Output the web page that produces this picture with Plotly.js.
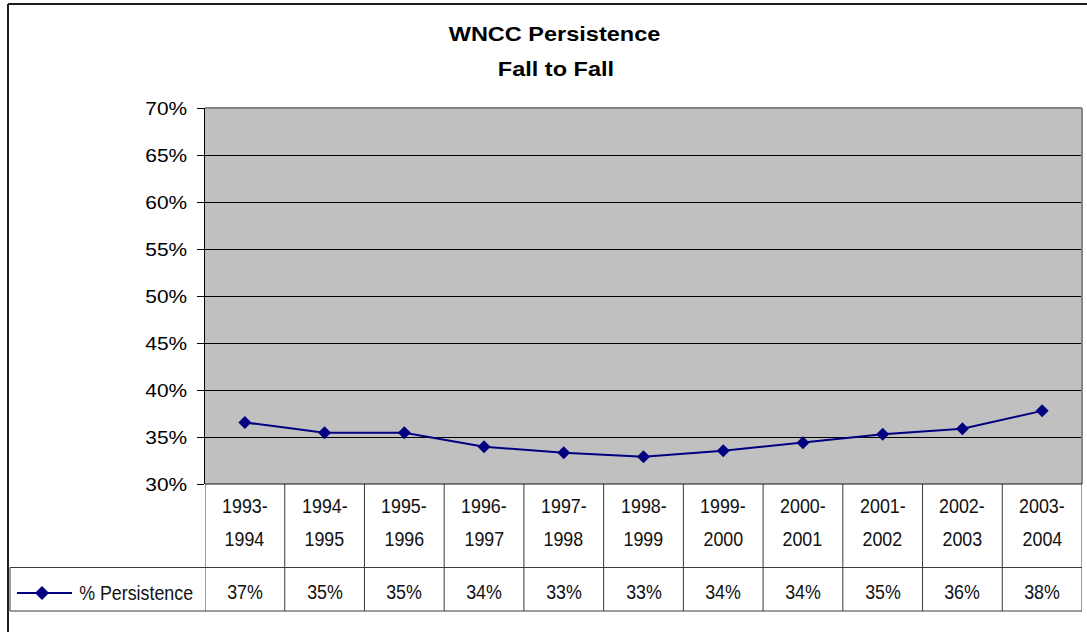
<!DOCTYPE html>
<html><head><meta charset="utf-8">
<script src="https://cdn.plot.ly/plotly-3.0.1.min.js"></script>
<style>html,body{margin:0;padding:0;background:#fff}#chart{width:1087px;height:632px}</style>
</head><body><div id="chart"></div>
<script>
// ---- data ----
const years = ["1993-1994","1994-1995","1995-1996","1996-1997","1997-1998","1998-1999","1999-2000","2000-2001","2001-2002","2002-2003","2003-2004"];
const persistence = [36.55, 35.45, 35.45, 33.97, 33.33, 32.9, 33.55, 34.4, 35.28, 35.88, 37.78];
const seriesName = "% Persistence";
const titleLines = ["WNCC Persistence", "Fall to Fall"];
const yTickVals = [30, 35, 40, 45, 50, 55, 60, 65, 70];

// ---- layout helpers ----
const W = 1087, H = 632;
const px = v => v / W;
const py = v => 1 - v / H;
const NAVY = "#000080";
const TXT = "#111111";
const TABLE_FONT = {family: "Liberation Sans, Arial, sans-serif", size: 21, color: TXT};
const LINE_COL = "#3a3a3a";
const TABLE_SCALE = 0.85, TITLE_SCALE = 1.12, TICK_SCALE = 1.1;

const plotL = 205, plotR = 1082, plotT = 108, plotB = 484;
const rowMid = 567.5, rowBot = 611;

const trace = {
  type: "scatter", mode: "lines+markers",
  x: years, y: persistence, name: seriesName,
  line: {color: NAVY, width: 2},
  marker: {symbol: "diamond", size: 10, color: NAVY},
  showlegend: false, hoverinfo: "skip"
};

const shapes = [];
const annotations = [];
const annScale = [];

// outer chart border (top + left visible)
shapes.push({type:"line", xref:"paper", yref:"paper", x0:px(8), x1:1, y0:py(4), y1:py(4), line:{color:"#1e1e1e", width:2}});
shapes.push({type:"line", xref:"paper", yref:"paper", x0:px(8), x1:px(8), y0:py(4), y1:0, line:{color:"#1e1e1e", width:2}});

// plot-area border top & right (gray)
shapes.push({type:"line", xref:"paper", yref:"paper", x0:px(plotL), x1:px(plotR), y0:py(plotT), y1:py(plotT), line:{color:"#858585", width:2}});
shapes.push({type:"line", xref:"paper", yref:"paper", x0:px(plotR), x1:px(plotR), y0:py(plotT), y1:py(plotB), line:{color:"#858585", width:2}});

// table grid
for (let k = 0; k <= years.length; k++) {
  shapes.push({type:"line", xref:"x", yref:"paper", x0:k-0.5, x1:k-0.5, y0:py(plotB), y1:py(rowBot), line:{color:LINE_COL, width:1}});
}
shapes.push({type:"line", xref:"paper", yref:"paper", x0:px(plotL), x1:px(plotR), y0:py(plotB), y1:py(plotB), line:{color:"#111", width:1}});
shapes.push({type:"line", xref:"paper", yref:"paper", x0:px(10), x1:px(plotR), y0:py(rowMid), y1:py(rowMid), line:{color:LINE_COL, width:1}});
shapes.push({type:"line", xref:"paper", yref:"paper", x0:px(10), x1:px(plotR), y0:py(rowBot), y1:py(rowBot), line:{color:LINE_COL, width:1}});
shapes.push({type:"line", xref:"paper", yref:"paper", x0:px(10), x1:px(10), y0:py(rowMid), y1:py(rowBot), line:{color:LINE_COL, width:1}});

// legend key in table
const legY = 593;
shapes.push({type:"line", xref:"paper", yref:"paper", x0:px(17), x1:px(72), y0:py(legY), y1:py(legY), line:{color:NAVY, width:2}});
const dc = 42, dr = 6.5;
shapes.push({type:"path", xref:"paper", yref:"paper",
  path:`M ${px(dc-dr)} ${py(legY)} L ${px(dc)} ${py(legY-dr)} L ${px(dc+dr)} ${py(legY)} L ${px(dc)} ${py(legY+dr)} Z`,
  fillcolor:NAVY, line:{color:NAVY, width:1}});
annotations.push({xref:"paper", yref:"paper", x:px(135.5), y:py(legY-1), xanchor:"center", yanchor:"middle", text:seriesName, showarrow:false, font:TABLE_FONT});
annScale.push(TABLE_SCALE);

// table texts
years.forEach((lab, i) => {
  const parts = lab.split("-");
  annotations.push({xref:"x", yref:"paper", x:i, y:py(505), text:parts[0] + "-", showarrow:false, xanchor:"center", yanchor:"middle", font:TABLE_FONT});
  annotations.push({xref:"x", yref:"paper", x:i, y:py(538.5), text:parts[1], showarrow:false, xanchor:"center", yanchor:"middle", font:TABLE_FONT});
  annotations.push({xref:"x", yref:"paper", x:i, y:py(591), text:Math.round(persistence[i]) + "%", showarrow:false, xanchor:"center", yanchor:"middle", font:TABLE_FONT});
  annScale.push(TABLE_SCALE, TABLE_SCALE, TABLE_SCALE);
});

// title
const titleFont = {family:"Liberation Sans, Arial, sans-serif", size:21, color:"#000", weight:"bold"};
annotations.push({xref:"paper", yref:"paper", x:px(554), y:py(34), text:"<b>"+titleLines[0]+"</b>", showarrow:false, xanchor:"center", yanchor:"middle", font:titleFont});
annotations.push({xref:"paper", yref:"paper", x:px(556), y:py(68), text:"<b>"+titleLines[1]+"</b>", showarrow:false, xanchor:"center", yanchor:"middle", font:titleFont});
annScale.push(TITLE_SCALE, TITLE_SCALE);

const layout = {
  width: W, height: H,
  margin: {l:0, r:0, t:0, b:0},
  paper_bgcolor: "#ffffff",
  plot_bgcolor: "#c0c0c0",
  showlegend: false,
  xaxis: {
    type: "category", domain: [px(plotL), px(plotR)], range: [-0.5, years.length - 0.5],
    showticklabels: false, showgrid: false, zeroline: false, showline: false, ticks: "", fixedrange: true
  },
  yaxis: {
    domain: [py(plotB), py(plotT)], range: [30, 70],
    tickvals: yTickVals, ticktext: yTickVals.map(v => v + "%"),
    ticks: "outside", ticklen: 7, tickcolor: "#000", tickwidth: 1,
    showline: true, linecolor: "#000", linewidth: 1,
    showgrid: true, gridcolor: "#000", gridwidth: 1, zeroline: false,
    tickfont: {family: "Liberation Sans, Arial, sans-serif", size: 19, color: "#000"},
    ticklabelstandoff: 6, fixedrange: true
  },
  shapes: shapes,
  annotations: annotations
};

function scaleText(el, s, anchor) {
  const bb = el.getBBox();
  const cx = anchor === "right" ? bb.x + bb.width : bb.x + bb.width / 2;
  const prev = el.getAttribute("transform") || "";
  el.setAttribute("transform", `${prev} translate(${cx} 0) scale(${s} 1) translate(${-cx} 0)`);
}

Plotly.newPlot("chart", [trace], layout, {displayModeBar: false, staticPlot: true}).then(gd => {
  gd.querySelectorAll("g.annotation").forEach(g => {
    const idx = +g.getAttribute("data-index");
    const t = g.querySelector("text");
    if (t && annScale[idx]) scaleText(t, annScale[idx], "center");
  });
  gd.querySelectorAll("g.ytick text").forEach(t => scaleText(t, TICK_SCALE, "right"));
});
</script>
</body></html>
